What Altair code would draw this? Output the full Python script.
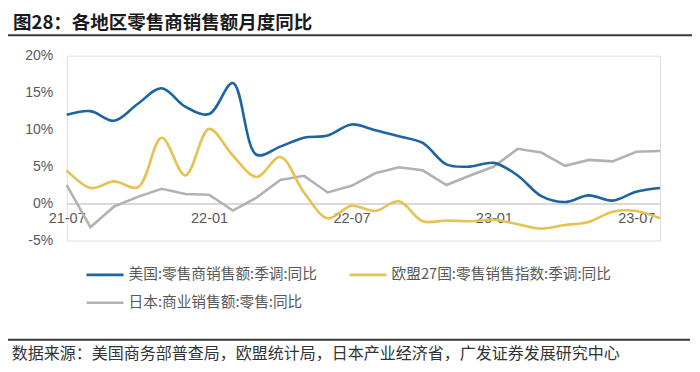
import altair as alt
import pandas as pd

months = ["21-07", "21-08", "21-09", "21-10", "21-11", "21-12",
          "22-01", "22-02", "22-03", "22-04", "22-05", "22-06",
          "22-07", "22-08", "22-09", "22-10", "22-11", "22-12",
          "23-01", "23-02", "23-03", "23-04", "23-05", "23-06",
          "23-07", "23-08"]
us = [12.0, 12.5, 11.2, 13.5, 15.6, 13.1, 12.1, 16.3, 6.6, 7.7, 8.9, 9.2,
      10.7, 9.9, 9.1, 8.2, 5.3, 5.0, 5.5, 3.8, 1.0, 0.2, 1.1, 0.4, 1.6, 2.1]
eu = [4.5, 2.1, 3.0, 2.2, 8.9, 3.8, 10.1, 6.5, 3.6, 6.3, 1.5, -2.0,
      -0.3, -1.0, 0.3, -2.4, -2.3, -2.4, -2.2, -2.8, -3.4, -2.9, -2.5, -1.1, -1.0, -2.0]
jp = [2.5, -3.2, -0.4, 0.9, 2.0, 1.3, 1.2, -0.95, 0.8, 3.2, 3.75, 1.5,
      2.4, 4.1, 4.9, 4.5, 2.5, 3.8, 5.0, 7.4, 6.9, 5.1, 5.9, 5.7, 7.0, 7.1]

us_name = "美国:零售商销售额:季调:同比"
eu_name = "欧盟27国:零售销售指数:季调:同比"
jp_name = "日本:商业销售额:零售:同比"
# legend is filled column by column: US, JP in first column, EU in second
legend_order = [us_name, jp_name, eu_name]
legend_colors = ["#1c64a2", "#b2b2b2", "#e6c252"]
x_label_values = ["21-07", "22-01", "22-07", "23-01", "23-07"]
y_tick_values = [-5, 0, 5, 10, 15, 20]

title_text = "图28：各地区零售商销售额月度同比"
source_text = "数据来源：美国商务部普查局，欧盟统计局，日本产业经济省，广发证券发展研究中心"

rows = []
for name, vals in zip([us_name, eu_name, jp_name], [us, eu, jp]):
    for m, v in zip(months, vals):
        rows.append({"month": m, "value": v, "series": name})
df = pd.DataFrame(rows)

W = 593.3
H = 184.8
CJK = "Noto Sans CJK SC"

color = alt.Color(
    "series:N",
    scale=alt.Scale(domain=legend_order, range=legend_colors),
    legend=alt.Legend(
        title=None, orient="none", legendX=18.3, legendY=199,
        columns=2, symbolType="stroke", symbolSize=1369, symbolStrokeWidth=2.6,
        labelFontSize=14.7, labelFont=CJK, labelColor="#595959", labelLimit=0,
        columnPadding=27, rowPadding=1, labelOffset=3.5,
    ),
)

x = alt.X(
    "month:O", sort=months,
    scale=alt.Scale(type="point", padding=0),
    axis=alt.Axis(
        title=None, values=x_label_values, labelAngle=0, ticks=False, tickSize=0,
        grid=False, domain=True, domainColor="#d9d9d9", domainWidth=2,
        offset=-H * 5 / 25, labelPadding=8, labelFontSize=14.5,
        labelFont="Liberation Sans", labelColor="#595959",
    ),
)
y = alt.Y(
    "value:Q",
    scale=alt.Scale(domain=[-5, 20], nice=False, zero=False),
    axis=alt.Axis(
        title=None, values=y_tick_values, labelExpr="datum.value + '%'",
        ticks=False, tickSize=0, grid=False, domain=False, labelPadding=14,
        labelFontSize=14, labelFont="Liberation Sans", labelColor="#595959",
    ),
)

base = alt.Chart(df).encode(x=x, y=y, color=color)
jp_line = base.transform_filter(alt.datum.series == jp_name).mark_line(strokeWidth=2.6)
smooth_lines = base.transform_filter(alt.datum.series != jp_name).mark_line(
    strokeWidth=2.6, interpolate="catmull-rom")

title_df = pd.DataFrame({"t": [title_text]})
source_df = pd.DataFrame({"t": [source_text]})

title_mark = alt.Chart(title_df).mark_text(
    align="left", baseline="middle", font=CJK, fontSize=18.5, fontWeight="bold", color="#1a1a1a"
).encode(text="t:N", x=alt.value(-53.7), y=alt.value(-32.4))

source_mark = alt.Chart(source_df).mark_text(
    align="left", baseline="middle", font=CJK, fontSize=16, color="#333333"
).encode(text="t:N", x=alt.value(-55), y=alt.value(298.3))

top_rule = alt.Chart(title_df).mark_rule(color="#3a3a3a", strokeWidth=2).encode(
    x=alt.value(-64.7), x2=alt.value(628.3), y=alt.value(-20.5))
bottom_rule = alt.Chart(source_df).mark_rule(color="#3a3a3a", strokeWidth=2).encode(
    x=alt.value(-66.7), x2=alt.value(623.3), y=alt.value(284))

chart = alt.layer(
    jp_line, smooth_lines, title_mark, source_mark, top_rule, bottom_rule
).properties(
    width=W, height=H,
    autosize=alt.AutoSizeParams(type="none"),
    padding={"left": 58.7, "top": 47.7, "right": 32, "bottom": 123.5},
).configure_view(stroke=None).configure(background="white")

chart.save("out.html", embed_options={"renderer": "svg", "actions": False})
